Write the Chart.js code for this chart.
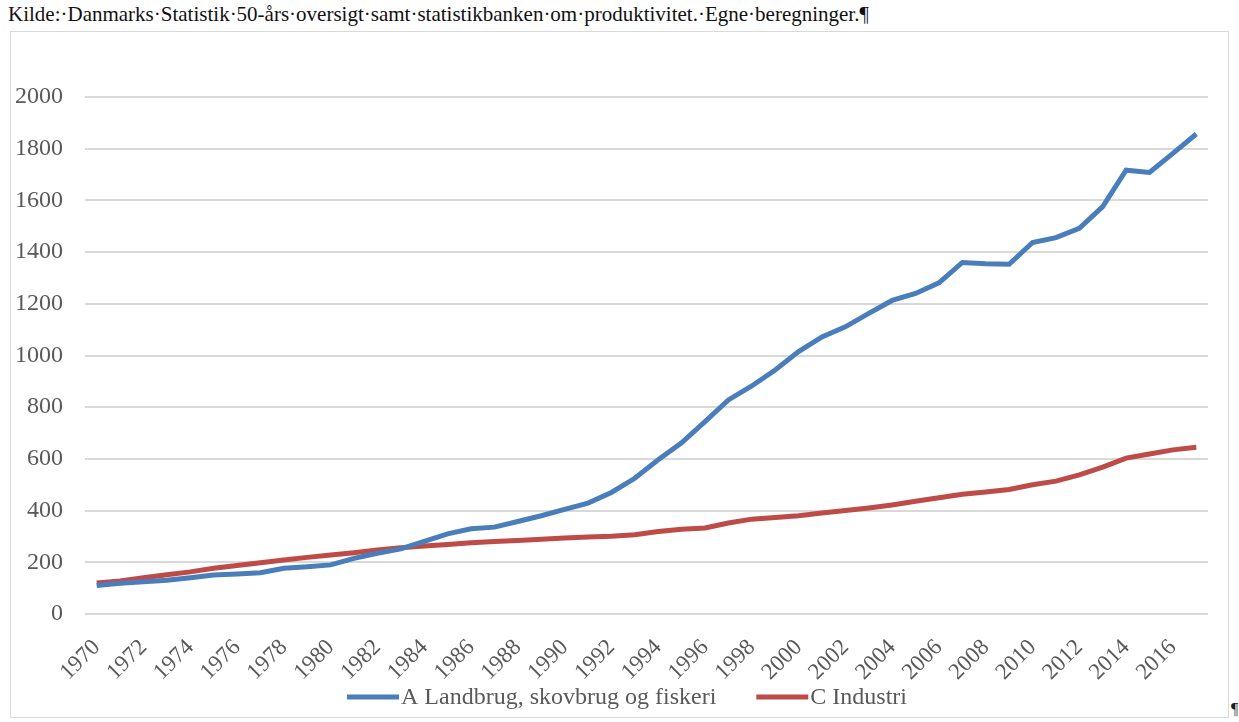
<!DOCTYPE html>
<html lang="da">
<head>
<meta charset="utf-8">
<title>Produktivitet</title>
<script src="https://cdn.jsdelivr.net/npm/chart.js@4.4.1/dist/chart.umd.min.js"></script>
<style>
  html, body {
    margin: 0;
    padding: 0;
    background: #ffffff;
    width: 1239px;
    height: 722px;
    overflow: hidden;
    font-family: "Liberation Serif", serif;
  }

  .source {
    position: absolute;
    left: 8px;
    top: 2px;
    font-size: 21px;
    color: #111111;
    white-space: nowrap;
  }

  .frame {
    position: absolute;
    left: 10px;
    top: 31px;
    width: 1219px;
    height: 687px;
    box-sizing: border-box;
    border: 1.5px solid #d9d9d9;
  }

  .chart-container {
    position: absolute;
    left: 0;
    top: 0;
    width: 1216px;
    height: 684px;
  }

  .pilcrow {
    position: absolute;
    left: 1231px;
    top: 700px;
    font-size: 16px;
    color: #1e1e1e;
  }
</style>
</head>
<body>
  <div class="source">Kilde:·Danmarks·Statistik·50-års·oversigt·samt·statistikbanken·om·produktivitet.·Egne·beregninger.¶</div>
  <div class="frame">
    <div class="chart-container">
      <canvas id="productivity-chart"></canvas>
    </div>
  </div>
  <div class="pilcrow">¶</div>

<script>
// Years on the category axis
const years = [
  '1970', '1971', '1972', '1973', '1974', '1975', '1976', '1977', '1978', '1979',
  '1980', '1981', '1982', '1983', '1984', '1985', '1986', '1987', '1988', '1989',
  '1990', '1991', '1992', '1993', '1994', '1995', '1996', '1997', '1998', '1999',
  '2000', '2001', '2002', '2003', '2004', '2005', '2006', '2007', '2008', '2009',
  '2010', '2011', '2012', '2013', '2014', '2015', '2016', '2017'
];

// A Landbrug, skovbrug og fiskeri
const landbrug = [
  110, 119, 125, 131, 140, 151, 155, 160, 177, 183,
  190, 215, 235, 252, 281, 310, 330, 336, 358, 380,
  405, 429, 470, 525, 597, 662, 744, 828, 882, 944,
  1015, 1072, 1111, 1163, 1213, 1240, 1281, 1360, 1355, 1353,
  1437, 1456, 1492, 1576, 1717, 1708, 1782, 1857
];

// C Industri
const industri = [
  120, 128, 140, 152, 163, 177, 188, 198, 209, 219,
  228, 237, 248, 256, 263, 269, 276, 280, 284, 289,
  294, 298, 301, 307, 319, 328, 333, 352, 367, 373,
  380, 391, 400, 410, 422, 436, 450, 463, 472, 482,
  500, 514, 538, 568, 603, 619, 635, 645
];

const seriesLabels = ['A Landbrug, skovbrug og fiskeri', 'C Industri'];
const seriesColors = ['#4a7ebb', '#be4b48'];

Chart.defaults.font.family = '"Liberation Serif", serif';
Chart.defaults.color = '#595959';

// Excel-style legend: line sample right up against the label, centred under the chart
const lineLegend = {
  id: 'lineLegend',
  afterDraw(chart) {
    const { ctx } = chart;
    const sampleWidth = 52;
    const textGap = 2;
    const itemGap = 40;
    const y = 665;

    ctx.save();
    ctx.font = '24px "Liberation Serif", serif';
    ctx.textBaseline = 'middle';
    ctx.textAlign = 'left';

    const datasets = chart.data.datasets;
    const widths = datasets.map(ds => sampleWidth + textGap + ctx.measureText(ds.label).width);
    const total = widths.reduce((sum, w) => sum + w, 0) + itemGap * (widths.length - 1);
    let x = chart.width / 2 + 8 - total / 2;

    datasets.forEach((ds, i) => {
      ctx.strokeStyle = ds.borderColor;
      ctx.lineWidth = 5;
      ctx.beginPath();
      ctx.moveTo(x, y);
      ctx.lineTo(x + sampleWidth, y);
      ctx.stroke();

      ctx.fillStyle = '#595959';
      ctx.fillText(ds.label, x + sampleWidth + textGap, y + 1);
      x += widths[i] + itemGap;
    });
    ctx.restore();
  }
};

const ctx = document.getElementById('productivity-chart').getContext('2d');

new Chart(ctx, {
  type: 'line',
  data: {
    labels: years,
    datasets: [
      {
        label: seriesLabels[0],
        data: landbrug,
        borderColor: seriesColors[0],
        backgroundColor: seriesColors[0],
        borderWidth: 5,
        pointRadius: 0,
        tension: 0,
        fill: false
      },
      {
        label: seriesLabels[1],
        data: industri,
        borderColor: seriesColors[1],
        backgroundColor: seriesColors[1],
        borderWidth: 5,
        pointRadius: 0,
        tension: 0,
        fill: false
      }
    ]
  },
  options: {
    responsive: true,
    maintainAspectRatio: false,
    animation: false,
    layout: {
      padding: { top: 65, right: 19, left: 0, bottom: 32 }
    },
    scales: {
      x: {
        offset: true,
        grid: { display: false, drawTicks: false },
        border: { display: false },
        ticks: {
          autoSkip: false,
          maxRotation: 45,
          minRotation: 45,
          padding: 20,
          font: { size: 23 },
          color: '#595959',
          callback: function(value, index) {
            return index % 2 === 0 ? this.getLabelForValue(value) : '';
          }
        },
        afterFit: (scale) => {
          // fixed label band, and no extra side padding for the rotated labels
          scale.height = 70;
          scale.paddingLeft = 0;
          scale.paddingRight = 0;
        }
      },
      y: {
        min: 0,
        max: 2000,
        grid: { color: '#d9d9d9', lineWidth: 2, drawTicks: false },
        border: { display: false },
        ticks: {
          stepSize: 200,
          padding: 22,
          font: { size: 24 },
          color: '#595959',
          callback: (value) => String(value)
        },
        afterFit: (scale) => { scale.width = 74; }
      }
    },
    plugins: {
      title: { display: false },
      tooltip: { enabled: false },
      legend: { display: false }
    }
  },
  plugins: [lineLegend]
});
</script>
</body>
</html>
